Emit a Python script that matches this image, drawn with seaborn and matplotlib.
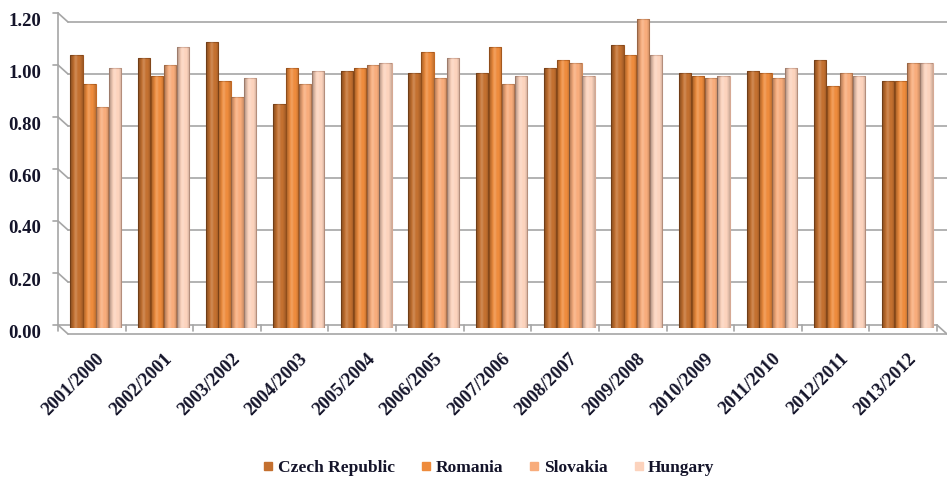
import matplotlib
matplotlib.use("Agg")
import matplotlib.pyplot as plt
import matplotlib.transforms as mtransforms
from matplotlib.lines import Line2D
import numpy as np
import pandas as pd
import seaborn as sns

periods = ["2001/2000", "2002/2001", "2003/2002", "2004/2003", "2005/2004",
           "2006/2005", "2007/2006", "2008/2007", "2009/2008", "2010/2009",
           "2011/2010", "2012/2011", "2013/2012"]
czech = [1.05, 1.04, 1.10, 0.86, 0.99, 0.98, 0.98, 1.00, 1.09, 0.98, 0.99, 1.03, 0.95]
romania = [0.94, 0.97, 0.95, 1.00, 1.00, 1.06, 1.08, 1.03, 1.05, 0.97, 0.98, 0.93, 0.95]
slovakia = [0.85, 1.01, 0.89, 0.94, 1.01, 0.96, 0.94, 1.02, 1.19, 0.96, 0.96, 0.98, 1.02]
hungary = [1.00, 1.08, 0.96, 0.99, 1.02, 1.04, 0.97, 0.97, 1.05, 0.97, 1.00, 0.97, 1.02]
countries = ["Czech Republic", "Romania", "Slovakia", "Hungary"]
colors = ["#C4702F", "#EE8B3C", "#F8AC7B", "#FCD3BD"]
edges = ["#9A5420", "#C46A25", "#D08A5C", "#D6A994"]
yticks = [0.0, 0.2, 0.4, 0.6, 0.8, 1.0, 1.2]

df = pd.DataFrame({"period": periods, countries[0]: czech, countries[1]: romania,
                   countries[2]: slovakia, countries[3]: hungary})
long = df.melt(id_vars="period", var_name="country", value_name="value")

sns.set_theme(style="white")
SERIF = ["Liberation Serif", "DejaVu Serif"]
plt.rcParams["font.family"] = SERIF
plt.rcParams["font.weight"] = "bold"
TEXT = "#14142a"
GRID = "#a6a6a6"

fig = plt.figure(figsize=(9.47, 4.79), dpi=100)
ax = fig.add_axes([62 / 947, 1 - 328 / 479, 879 / 947, 312 / 479])

sns.barplot(data=long, x="period", y="value", hue="country", hue_order=countries,
            palette=colors, width=0.76, gap=0.04, ax=ax, legend=False,
            saturation=1, errorbar=None, zorder=3)

# cylinder-like shading across each bar: darker edges, soft highlight left of centre
u = np.linspace(0, 1, 40)
shade = np.zeros((1, u.size, 4))
dark = np.clip(0.30 * (1 - u / 0.35), 0, None) + np.clip(0.18 * (u - 0.75) / 0.25, 0, None)
light = 0.18 * np.exp(-((u - 0.45) / 0.12) ** 2)
shade[0, :, :3] = np.where(dark[:, None] > light[:, None], 0.0, 1.0)
shade[0, :, 3] = np.maximum(dark, light)
for cont, ec in zip(ax.containers, edges):
    for bar in cont:
        bar.set_edgecolor(ec)
        bar.set_linewidth(0.8)
        x0, w, h = bar.get_x(), bar.get_width(), bar.get_height()
        im = ax.imshow(shade, extent=[x0, x0 + w, 0, h], aspect="auto",
                       interpolation="bilinear", zorder=3.5)
        im.set_clip_path(bar)

n = len(periods)
ax.set_ylim(0, 1.2)
ax.set_xlim(-0.5, n - 0.5)
ax.set_xlabel("")
ax.set_ylabel("")
for side in ax.spines.values():
    side.set_visible(False)

# perspective frame: back wall shifted up/right, front edge shifted down/left
base = ax.get_yaxis_transform()
back = mtransforms.offset_copy(base, fig=fig, x=6, y=-6, units="dots")
front = mtransforms.offset_copy(base, fig=fig, x=-4, y=3, units="dots")
line_kw = dict(color=GRID, lw=1.2, clip_on=False, zorder=1)
for v in yticks:
    ax.plot([0, 1], [v, v], transform=back, **line_kw)
    p0 = front.transform((0, v))
    p1 = back.transform((0, v))
    fig.add_artist(Line2D([p0[0], p1[0]], [p0[1], p1[1]], transform=None,
                          color=GRID, lw=1.2))
    fig.add_artist(Line2D([p0[0] - 5, p0[0]], [p0[1], p0[1]], transform=None,
                          color=GRID, lw=1.2))
ax.plot([0, 0], [0, 1.2], transform=front, **line_kw)
ax.plot([0, 1], [0, 0], transform=front, **line_kw)
q0 = front.transform((1, 0))
q1 = back.transform((1, 0))
fig.add_artist(Line2D([q0[0], q1[0]], [q0[1], q1[1]], transform=None,
                      color=GRID, lw=1.2))
xfront = mtransforms.offset_copy(ax.transData, fig=fig, x=-4, y=3, units="dots")
for b in np.arange(-0.5, n, 1.0):
    p = xfront.transform((b, 0))
    fig.add_artist(Line2D([p[0], p[0]], [p[1], p[1] - 6], transform=None,
                          color=GRID, lw=1.2))

ax.set_yticks(yticks)
ax.set_yticklabels([f"{v:.2f}" for v in yticks], fontsize=13.5, fontweight="bold",
                   color=TEXT, family=SERIF)
ax.tick_params(axis="y", length=0, pad=15)
for lab in ax.get_yticklabels():
    lab.set_transform(lab.get_transform() + mtransforms.ScaledTranslation(0, -3 / 100, fig.dpi_scale_trans))

ax.set_xticks(range(n))
ax.set_xticklabels(periods, rotation=45, ha="right", rotation_mode="anchor",
                   fontsize=13.5, fontweight="bold", color=TEXT, family=SERIF)
ax.tick_params(axis="x", length=0, pad=16)

handles = [Line2D([0], [0], marker="s", linestyle="", markersize=5.5,
                  markerfacecolor=c, markeredgecolor=c) for c in colors]
leg = fig.legend(handles, countries, loc="center", bbox_to_anchor=(487 / 947, 1 - 468 / 479),
                 ncol=4, frameon=False, handletextpad=0.05, columnspacing=1.3,
                 handlelength=1.0,
                 prop={"weight": "bold", "size": 12.5, "family": SERIF})
for t in leg.get_texts():
    t.set_color(TEXT)

fig.savefig("out.png", dpi=100)
